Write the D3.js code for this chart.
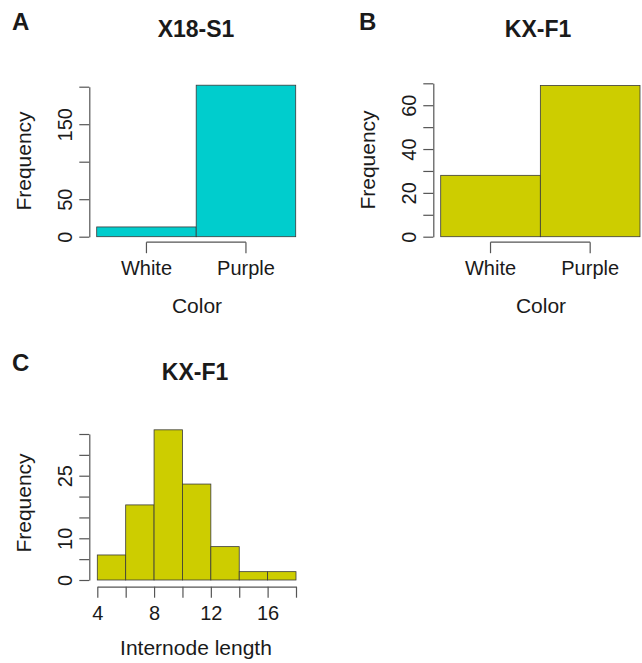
<!DOCTYPE html>
<html>
<head>
<meta charset="utf-8">
<script src="https://cdn.jsdelivr.net/npm/d3@7"></script>
<style>
  body { margin: 0; background: #fff; }
  svg text { font-family: "Liberation Sans", Arial, Helvetica, sans-serif; fill: #1a1a1a; }
</style>
</head>
<body>
<svg id="chart" width="642" height="663"></svg>
<script>
// --- data ---
var colorCategories = ['White', 'Purple'];
var x18s1Counts = [13, 202];
var kxf1ColorCounts = [28, 69];

var internodeBreaks = [4, 6, 8, 10, 12, 14, 16, 18];
var internodeCounts = [6, 18, 36, 23, 8, 2, 2];

// tick values and the labels R kept (overlapping ones dropped)
var yTicksA = [0, 50, 100, 150, 200];
var yLabelsA = ['0', '50', '', '150', ''];
var yTicksB = [0, 10, 20, 30, 40, 50, 60, 70];
var yLabelsB = ['0', '', '20', '', '40', '', '60', ''];
var yTicksC = [0, 5, 10, 15, 20, 25, 30, 35];
var yLabelsC = ['0', '', '10', '', '', '25', '', ''];
var xTicksC = [4, 6, 8, 10, 12, 14, 16, 18];
var xLabelsC = ['4', '', '8', '', '12', '', '16', ''];

var CYAN = '#00cdcd',
    OLIVE = '#cdcd00',
    AXIS = '#555',
    EDGE = '#3a3a3a';

var svg = d3.select('#chart');

/**
 * Left axis drawn R style: spine from first to last tick, rotated labels
 */
function drawYAxis(g, y, ticks, labels, x) {
    var axis = d3.axisLeft(y)
        .tickValues(ticks)
        .tickSize(10)
        .tickSizeOuter(0)
        .tickFormat(function(d, i) { return labels[i]; });
    var a = g.append('g')
        .attr('transform', 'translate(' + x + ',0)')
        .call(axis);
    a.select('.domain').attr('stroke', AXIS).attr('stroke-width', 1.2);
    a.selectAll('.tick line').attr('stroke', AXIS).attr('stroke-width', 1.2);
    a.selectAll('.tick text')
        .attr('transform', 'rotate(-90)')
        .attr('x', 0)
        .attr('y', -17)
        .attr('dy', 0)
        .attr('text-anchor', 'middle')
        .style('font-size', '20px')
        .style('fill', '#1a1a1a');
}

/**
 * Bottom axis; for categories the line only joins the tick centres
 */
function drawXAxis(g, x, yPos, ticks, labels) {
    var axis = d3.axisBottom(x)
        .tickSize(11)
        .tickSizeOuter(0);
    if (ticks) {
        axis.tickValues(ticks).tickFormat(function(d, i) { return labels[i]; });
    }
    var a = g.append('g')
        .attr('transform', 'translate(0,' + yPos + ')')
        .call(axis);
    if (x.bandwidth) {
        var dom = x.domain(),
            x0 = x(dom[0]) + x.bandwidth() / 2,
            x1 = x(dom[dom.length - 1]) + x.bandwidth() / 2;
        a.select('.domain').attr('d', 'M' + x0 + ',0H' + x1);
    }
    a.select('.domain').attr('stroke', AXIS).attr('stroke-width', 1.2);
    a.selectAll('.tick line').attr('stroke', AXIS).attr('stroke-width', 1.2);
    a.selectAll('.tick text')
        .attr('y', 33)
        .attr('dy', 0)
        .style('font-size', '20px')
        .style('fill', '#1a1a1a');
}

function drawHeader(letter, lx, ly, title, tx, ty) {
    svg.append('text')
        .attr('x', lx).attr('y', ly)
        .style('font-size', '24px').style('font-weight', 'bold')
        .text(letter);
    svg.append('text')
        .attr('x', tx).attr('y', ty)
        .attr('text-anchor', 'middle')
        .style('font-size', '23px').style('font-weight', 'bold')
        .text(title);
}

function drawAxisTitles(xLabel, xx, xy, fx, fy) {
    svg.append('text')
        .attr('x', xx).attr('y', xy)
        .attr('text-anchor', 'middle')
        .style('font-size', '21px')
        .text(xLabel);
    svg.append('text')
        .attr('transform', 'translate(' + fx + ',' + fy + ') rotate(-90)')
        .attr('text-anchor', 'middle')
        .style('font-size', '21px')
        .text('Frequency');
}

/**
 * Two-bar colour count panel (A and B)
 */
function drawColorPanel(opts) {
    var g = svg.append('g');
    var x = d3.scaleBand()
        .domain(colorCategories)
        .range([opts.left, opts.right])
        .padding(0);
    var y = d3.scaleLinear()
        .domain([0, opts.yTicks[opts.yTicks.length - 1]])
        .range([opts.base, opts.top]);

    g.selectAll('rect')
        .data(opts.counts)
        .enter().append('rect')
        .attr('x', function(d, i) { return x(colorCategories[i]); })
        .attr('y', function(d) { return y(d); })
        .attr('width', x.bandwidth())
        .attr('height', function(d) { return y(0) - y(d); })
        .attr('fill', opts.fill)
        .attr('stroke', EDGE)
        .attr('stroke-width', 0.8);

    drawYAxis(g, y, opts.yTicks, opts.yLabels, opts.spine);
    drawXAxis(g, x, opts.base + 5.5);
}

drawHeader('A', 12, 30, 'X18-S1', 196, 37);
drawColorPanel({
    counts: x18s1Counts, fill: CYAN,
    left: 96.7, right: 295.7, base: 236.7, top: 86.7, spine: 89.3,
    yTicks: yTicksA, yLabels: yLabelsA
});
drawAxisTitles('Color', 197, 313, 31, 161);

drawHeader('B', 359, 30, 'KX-F1', 538, 37);
drawColorPanel({
    counts: kxf1ColorCounts, fill: OLIVE,
    left: 440.7, right: 640, base: 236.7, top: 83.3, spine: 433.3,
    yTicks: yTicksB, yLabels: yLabelsB
});
drawAxisTitles('Color', 541, 313, 375, 160);

// --- panel C: internode length histogram ---
drawHeader('C', 12, 371, 'KX-F1', 195, 380);
(function() {
    var g = svg.append('g');
    var x = d3.scaleLinear().domain([4, 18]).range([97.3, 296]);
    var y = d3.scaleLinear().domain([0, 35]).range([580, 434]);

    g.selectAll('rect')
        .data(internodeCounts)
        .enter().append('rect')
        .attr('x', function(d, i) { return x(internodeBreaks[i]); })
        .attr('y', function(d) { return y(d); })
        .attr('width', function(d, i) { return x(internodeBreaks[i + 1]) - x(internodeBreaks[i]); })
        .attr('height', function(d) { return y(0) - y(d); })
        .attr('fill', OLIVE)
        .attr('stroke', EDGE)
        .attr('stroke-width', 0.8);

    drawYAxis(g, y, yTicksC, yLabelsC, 89.3);
    drawXAxis(g, x, 586.7, xTicksC, xLabelsC);
})();
drawAxisTitles('Internode length', 196, 655, 31, 503);
</script>
</body>
</html>
